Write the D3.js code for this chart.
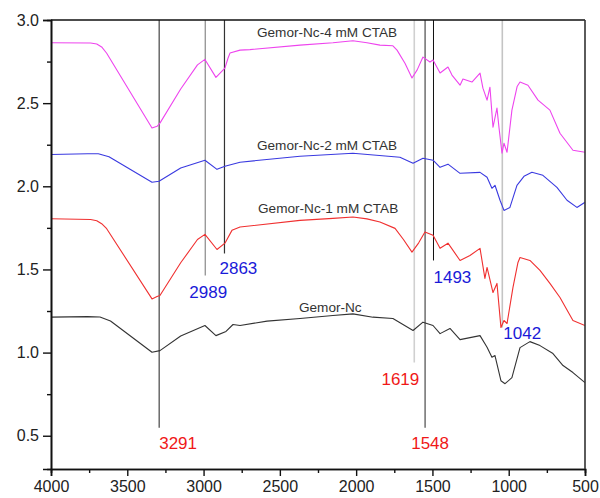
<!DOCTYPE html>
<html>
<head>
<meta charset="utf-8">
<script src="https://cdn.jsdelivr.net/npm/d3@7"></script>
<style>
  body { margin: 0; background: #fff; }
  text { font-family: "Liberation Sans", Arial, sans-serif; }
</style>
</head>
<body>
<script>
// wavenumber (cm-1) / absorbance pairs
var ctab4 = [[4000,2.863],[3740,2.862],[3700,2.856],[3668,2.838],[3635,2.800],[3338,2.351],[3305,2.361],[3286,2.380],[3150,2.585],[3040,2.730],[2991,2.763],[2919,2.655],[2860,2.711],
  [2840,2.770],[2827,2.801],[2761,2.819],[2696,2.822],[2368,2.849],[2152,2.863],[2021,2.875],[1929,2.863],[1844,2.849],[1759,2.845],
  [1732,2.819],[1680,2.740],[1634,2.651],[1600,2.700],[1562,2.777],[1516,2.747],[1496,2.759],[1450,2.681],[1398,2.717],[1372,2.669],[1319,2.608],
  [1300,2.645],[1241,2.627],[1188,2.681],[1169,2.590],[1142,2.518],[1123,2.596],[1103,2.355],[1077,2.470],[1064,2.355],
  [1044,2.199],[1031,2.259],[1011,2.205],[979,2.458],[945,2.600],[926,2.627],[874,2.608],[808,2.518],[730,2.458],[664,2.319],
  [579,2.217],[500,2.205]];
var ctab2 = [[4000,2.191],[3760,2.196],[3690,2.196],[3620,2.178],[3338,2.024],[3292,2.030],[3150,2.110],[2991,2.157],[2912,2.102],[2860,2.120],[2761,2.145],
  [2368,2.181],[2021,2.199],[1713,2.175],[1627,2.139],[1562,2.169],[1496,2.157],[1450,2.114],[1398,2.133],[1319,2.078],
  [1188,2.084],[1142,2.054],[1110,1.988],[1090,2.006],[1057,1.916],[1031,1.855],[992,1.873],[946,2.006],[900,2.060],[848,2.084],
  [776,2.066],[684,1.994],[618,1.916],[553,1.873],[500,1.904]];
var ctab1 = [[4000,1.805],[3740,1.800],[3700,1.793],[3668,1.775],[3635,1.745],[3338,1.323],[3305,1.337],[3286,1.343],[3150,1.540],[3040,1.680],[2991,1.711],[2912,1.620],[2860,1.658],
  [2814,1.735],[2761,1.755],[2368,1.795],[2152,1.807],[2021,1.815],[1929,1.804],[1844,1.785],[1745,1.747],[1690,1.680],[1634,1.604],[1590,1.660],
  [1549,1.725],[1496,1.705],[1450,1.627],[1398,1.658],[1319,1.554],[1254,1.584],[1188,1.627],[1156,1.446],[1142,1.512],
  [1103,1.361],[1077,1.416],[1051,1.151],[1031,1.193],[1011,1.175],[972,1.392],[940,1.540],[926,1.572],[861,1.554],[795,1.494],
  [730,1.416],[664,1.331],[579,1.193],[500,1.163]];
var gemor = [[4000,1.213],[3760,1.216],[3679,1.214],[3610,1.190],[3338,1.002],[3286,1.012],[3150,1.100],[2991,1.163],[2919,1.102],[2853,1.127],[2807,1.169],
  [2761,1.163],[2584,1.189],[2368,1.205],[2152,1.223],[2021,1.233],[1890,1.213],[1759,1.205],[1627,1.133],[1562,1.183],
  [1496,1.163],[1450,1.114],[1385,1.145],[1319,1.078],[1188,1.102],[1142,1.032],[1110,0.972],[1090,0.982],[1051,0.831],
  [1024,0.813],[979,0.849],[926,1.030],[861,1.066],[795,1.042],[710,0.994],[644,0.922],[579,0.880],[500,0.819]];

var seriesNames = ["Gemor-Nc-4 mM CTAB", "Gemor-Nc-2 mM CTAB", "Gemor-Nc-1 mM CTAB", "Gemor-Nc"];
var seriesData = [ctab4, ctab2, ctab1, gemor];
var seriesColors = ["#ee44ee", "#3a3ae0", "#f03030", "#333333"];

// marked bands: wavenumber and the absorbance where each drop line ends
var peakWaves = [3291, 2989, 2863, 1619, 1548, 1493, 1042];
var peakEnds = [0.548, 1.464, 1.596, 0.940, 0.548, 1.554, 1.151];

var xTicks = [4000, 3500, 3000, 2500, 2000, 1500, 1000, 500];
var yTicks = [0.5, 1.0, 1.5, 2.0, 2.5, 3.0];

var width = 600, height = 498;
var margin = {left: 51, right: 15, top: 20, bottom: 29};

var x = d3.scaleLinear().domain([4000, 500]).range([margin.left, width - margin.right]);
var y = d3.scaleLinear().domain([0.3, 3.0]).range([height - margin.bottom, margin.top]);

var svg = d3.select("body").append("svg").attr("width", width).attr("height", height);

svg.append("defs").append("clipPath").attr("id", "plot")
  .append("rect").attr("x", margin.left).attr("y", margin.top)
  .attr("width", x(500) - x(4000)).attr("height", y(0.3) - y(3.0));

// drop lines
var lineStyle = {
  3291: {stroke: "#444", w: 1.2}, 2989: {stroke: "#888", w: 1.2}, 2863: {stroke: "#333", w: 1.2},
  1619: {stroke: "#d0d0d0", w: 1.6}, 1548: {stroke: "#777", w: 1.6}, 1493: {stroke: "#111", w: 1},
  1042: {stroke: "#c4c4c4", w: 1.6}
};
svg.append("g").selectAll("line").data(peakWaves).enter().append("line")
  .attr("x1", d => x(d)).attr("x2", d => x(d))
  .attr("y1", y(3.0)).attr("y2", (d, i) => y(peakEnds[i]))
  .attr("stroke", d => lineStyle[d].stroke)
  .attr("stroke-width", d => lineStyle[d].w);

// spectra
var line = d3.line().x(d => x(d[0])).y(d => y(d[1]));
svg.append("g").attr("clip-path", "url(#plot)").selectAll("path")
  .data(seriesData).enter().append("path")
  .attr("d", line)
  .attr("fill", "none")
  .attr("stroke", (d, i) => seriesColors[i])
  .attr("stroke-width", 1.1)
  .attr("stroke-linejoin", "round");

// series names
var nameAt = [[2650, 2.898], [2650, 2.217], [2643, 1.837], [2375, 1.247]];
svg.append("g").selectAll("text").data(seriesNames).enter().append("text")
  .attr("x", (d, i) => x(nameAt[i][0]))
  .attr("y", (d, i) => y(nameAt[i][1]))
  .attr("font-size", 13.6)
  .attr("fill", "#333")
  .text(d => d);

// band labels
var labelPos = {
  3291: {dx: 0, dy: 21, anchor: "start", fill: "#f01818"},
  2989: {dx: 3, dy: 23, anchor: "middle", fill: "#1a1ad8"},
  2863: {dx: -5, dy: 21, anchor: "start", fill: "#1a1ad8"},
  1619: {dx: 5, dy: 22, anchor: "end", fill: "#f01818"},
  1548: {dx: 5, dy: 21, anchor: "middle", fill: "#f01818"},
  1493: {dx: 0, dy: 23, anchor: "start", fill: "#1a1ad8"},
  1042: {dx: 1, dy: 12, anchor: "start", fill: "#1a1ad8"}
};
svg.append("g").selectAll("text").data(peakWaves).enter().append("text")
  .attr("x", d => x(d) + labelPos[d].dx)
  .attr("y", (d, i) => y(peakEnds[i]) + labelPos[d].dy)
  .attr("text-anchor", d => labelPos[d].anchor)
  .attr("font-size", 17)
  .attr("fill", d => labelPos[d].fill)
  .text(d => d);

// axes
var xAxis = d3.axisBottom(x).tickValues(xTicks).tickSize(7).tickPadding(5).tickFormat(d3.format("d"));
var yAxis = d3.axisLeft(y).tickValues(yTicks).tickSize(8).tickPadding(4).tickFormat(d3.format(".1f"));
var xMinor = d3.axisBottom(x).tickValues(d3.range(3750, 500, -500)).tickSize(4).tickFormat("");
var yMinor = d3.axisLeft(y).tickValues(d3.range(0.75, 3.0, 0.5)).tickSize(4).tickFormat("");

var gx = svg.append("g").attr("transform", "translate(0," + y(0.3) + ")").call(xAxis);
svg.append("g").attr("transform", "translate(0," + y(0.3) + ")").call(xMinor);
var gy = svg.append("g").attr("transform", "translate(" + x(4000) + ",0)").call(yAxis);
svg.append("g").attr("transform", "translate(" + x(4000) + ",0)").call(yMinor);

svg.selectAll(".domain").attr("stroke", "#111").attr("stroke-width", 1.6);
svg.selectAll(".tick line").attr("stroke", "#111").attr("stroke-width", 1.4);
gx.selectAll("text").attr("font-size", 16).attr("fill", "#222").attr("font-family", "Liberation Sans, Arial, sans-serif");
gy.selectAll("text").attr("font-size", 16).attr("fill", "#222").attr("font-family", "Liberation Sans, Arial, sans-serif");

// frame top and right
svg.append("line").attr("x1", x(4000)).attr("x2", x(500)).attr("y1", y(3.0)).attr("y2", y(3.0))
  .attr("stroke", "#111").attr("stroke-width", 1.6);
svg.append("line").attr("x1", x(500)).attr("x2", x(500)).attr("y1", y(3.0)).attr("y2", y(0.3))
  .attr("stroke", "#333").attr("stroke-width", 1.6);
</script>
</body>
</html>
